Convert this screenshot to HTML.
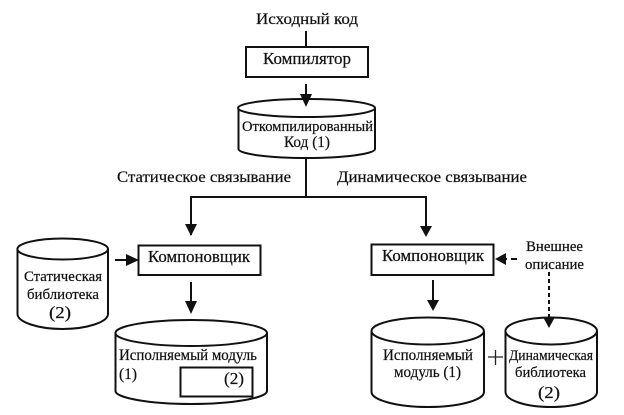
<!DOCTYPE html>
<html><head><meta charset="utf-8">
<style>
html,body{margin:0;padding:0;background:#fff;width:624px;height:415px;overflow:hidden}
svg{display:block;filter:blur(.35px)}
text{font-family:"Liberation Serif","Noto Serif CJK SC",serif;fill:#111;stroke:#111;stroke-width:.22}
.l{fill:none;stroke:#111;stroke-width:2}
.s{fill:#fff;stroke:#111;stroke-width:2}
.h{fill:#111;stroke:none}
</style></head><body>
<svg width="624" height="415" viewBox="0 0 624 415" xmlns="http://www.w3.org/2000/svg">
<text x="256" y="24" font-size="16" textLength="102" lengthAdjust="spacingAndGlyphs">Исходный код</text>
<path class="l" d="M306 31V47"/>
<rect class="s" x="246" y="47" width="122" height="30"/>
<text x="263" y="64" font-size="17" textLength="88" lengthAdjust="spacingAndGlyphs">Компилятор</text>

<path class="s" d="M238.500 108V149C238.500 154 269 158 306.500 158S375 154 375 149V108"/>
<ellipse class="s" cx="306.500" cy="108" rx="68.500" ry="9"/>
<path class="l" d="M306 84V98"/><path class="h" d="M300 94H312L306 107Z"/>
<text x="242" y="131" font-size="15" textLength="131" lengthAdjust="spacingAndGlyphs">Откомпилированный</text>
<text x="284" y="147" font-size="15.500" textLength="46" lengthAdjust="spacingAndGlyphs">Код (1)</text>

<text x="117" y="182" font-size="16" textLength="174" lengthAdjust="spacingAndGlyphs">Статическое связывание</text>
<text x="337" y="182" font-size="16" textLength="190" lengthAdjust="spacingAndGlyphs">Динамическое связывание</text>

<path class="l" d="M306 158V197M191 235V197H426V228"/>
<path class="h" d="M185 224H197L191 236Z"/>
<path class="h" d="M420 226H432L426 237Z"/>

<rect class="s" x="138.500" y="245.500" width="122" height="29.500"/>
<text x="148" y="262" font-size="16.500" textLength="102" lengthAdjust="spacingAndGlyphs">Компоновщик</text>
<rect class="s" x="371.500" y="244.500" width="122" height="30.500"/>
<text x="382" y="261" font-size="16.500" textLength="102" lengthAdjust="spacingAndGlyphs">Компоновщик</text>

<path class="s" d="M17.500 249V314C17.500 322 38 329 62.500 329S108 322 108 314V249"/>
<ellipse class="s" cx="62.700" cy="249" rx="45.300" ry="10.500"/>
<text x="24" y="281" font-size="15" textLength="78" lengthAdjust="spacingAndGlyphs">Статическая</text>
<text x="27" y="299" font-size="15" textLength="72" lengthAdjust="spacingAndGlyphs">библиотека</text>
<text x="49" y="318" font-size="17" textLength="22" lengthAdjust="spacingAndGlyphs">(2)</text>

<path class="l" d="M115 260H130"/><path class="h" d="M126 254L139 260L126 266Z"/>
<path class="l" d="M191 282V304"/><path class="h" d="M185 301H197L191 314Z"/>

<path class="s" d="M115.500 333V391C115.500 398 150 404 191 404S267 398 267 391V333"/>
<ellipse class="s" cx="191.200" cy="333" rx="75.800" ry="13"/>
<text x="119" y="360" font-size="15.500" textLength="138" lengthAdjust="spacingAndGlyphs">Исполняемый модуль</text>
<text x="119" y="379" font-size="16" textLength="18" lengthAdjust="spacingAndGlyphs">(1)</text>
<rect class="l" x="180.500" y="367.500" width="72" height="29"/>
<text x="224" y="384" font-size="17" textLength="20" lengthAdjust="spacingAndGlyphs">(2)</text>

<path class="l" d="M433 280V303"/><path class="h" d="M427 300H439L433 311Z"/>

<path class="s" d="M371.500 331V392C371.500 400 397 407 428 407S484 400 484 392V331"/>
<ellipse class="s" cx="427.700" cy="331" rx="56.200" ry="13.500"/>
<text x="383" y="360" font-size="15.500" textLength="90" lengthAdjust="spacingAndGlyphs">Исполняемый</text>
<text x="394" y="377" font-size="15.500" textLength="67" lengthAdjust="spacingAndGlyphs">модуль (1)</text>

<path d="M488 357H503M495.500 350V365" fill="none" stroke="#222" stroke-width="1.300"/>

<path class="s" d="M505.500 331V392C505.500 400 525 407 551 407S597 400 597 392V331"/>
<ellipse class="s" cx="551.200" cy="331" rx="45.800" ry="13.500"/>
<text x="509" y="360" font-size="15" textLength="84" lengthAdjust="spacingAndGlyphs">Динамическая</text>
<text x="515" y="377" font-size="15" textLength="71" lengthAdjust="spacingAndGlyphs">библиотека</text>
<text x="538" y="398" font-size="17" textLength="22" lengthAdjust="spacingAndGlyphs">(2)</text>

<path class="h" d="M495 259L506 253V265Z"/>
<path class="l" d="M505 259H507M511 259H517"/>
<text x="526" y="251" font-size="14.500" textLength="57" lengthAdjust="spacingAndGlyphs">Внешнее</text>
<text x="525" y="269" font-size="14.500" textLength="59" lengthAdjust="spacingAndGlyphs">описание</text>
<path d="M549 272V320" fill="none" stroke="#111" stroke-width="2" stroke-dasharray="4 3"/>
<path class="h" d="M543 317H555L549 328Z"/>
</svg>
</body></html>
